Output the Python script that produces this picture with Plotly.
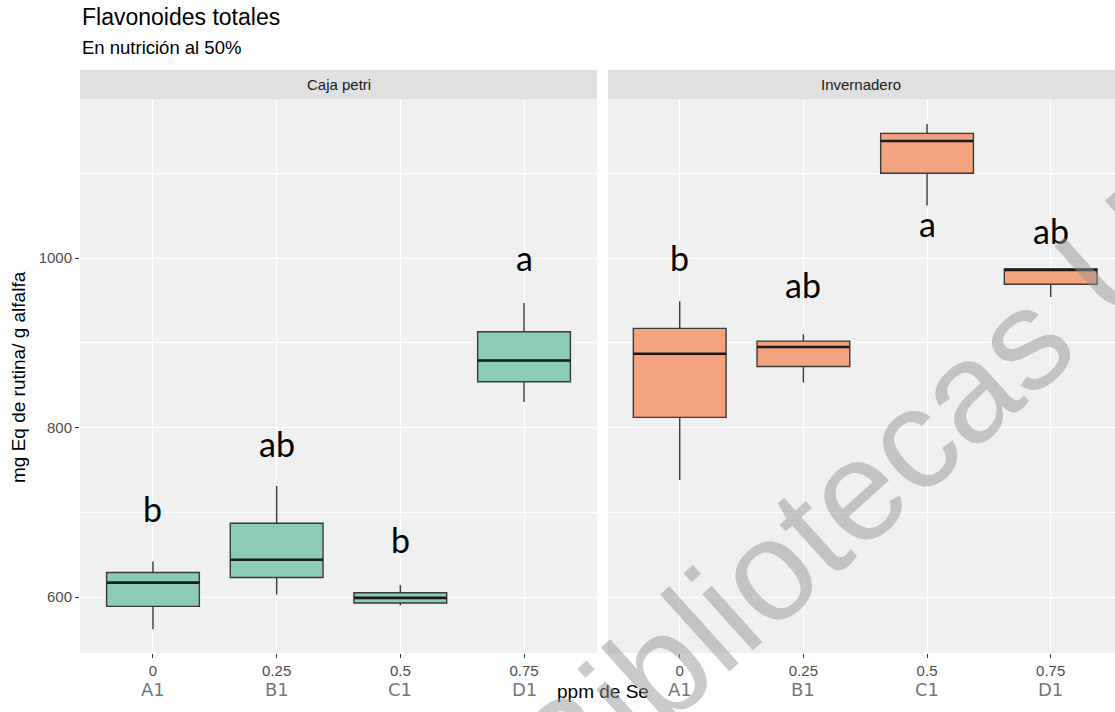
import plotly.graph_objects as go

# Tratamientos (eje x) y etiquetas
categorias = ["A1", "B1", "C1", "D1"]
dosis_se = ["0", "0.25", "0.5", "0.75"]
paneles = ["Caja petri", "Invernadero"]

# Resumen de cajas: Caja petri
petri_min = [562, 603, 590, 830]
petri_q1 = [589, 623, 593, 854]
petri_med = [617, 644, 599, 879]
petri_q3 = [629, 687, 605, 913]
petri_max = [642, 731, 614, 947]
petri_letras = ["b", "ab", "b", "a"]
petri_letra_y = [687, 764, 651, 984]

# Resumen de cajas: Invernadero
inv_min = [738, 853, 1062, 954]
inv_q1 = [812, 872, 1100, 969]
inv_med = [887, 895, 1138, 986]
inv_q3 = [917, 902, 1147, 987]
inv_max = [949, 910, 1158, 987]
inv_letras = ["b", "ab", "a", "ab"]
inv_letra_y = [983, 952, 1024, 1015]

verde = "#8CCBB5"
naranja = "#F4A37F"
fondo_panel = "#F0F0F0"
fondo_tira = "#E0E0E0"
ancho_caja = 0.75

W, H = 1115, 712
ML, MR, MT, MB = 80, 0, 70, 59
pw, ph = W - ML - MR, H - MT - MB
panel_top = (653 - 99) / ph

dom_izq = [0, 517 / pw]
dom_der = [(608 - ML) / pw, 1]

fig = go.Figure()

series = [
    ("x", "y", petri_min, petri_q1, petri_med, petri_q3, petri_max, verde),
    ("x2", "y2", inv_min, inv_q1, inv_med, inv_q3, inv_max, naranja),
]
for xa, ya, mn, q1, md, q3, mx, col in series:
    fig.add_trace(go.Box(
        x=list(range(len(categorias))), q1=q1, median=md, q3=q3,
        lowerfence=mn, upperfence=mx, width=ancho_caja,
        fillcolor=col, line=dict(color="#3a3a3a", width=1.4),
        whiskerwidth=0, boxpoints=False, xaxis=xa, yaxis=ya,
        showlegend=False, hoverinfo="skip",
    ))
    # mediana con trazo más grueso
    for i, m in enumerate(md):
        fig.add_shape(type="line", xref=xa, yref=ya,
                      x0=i - ancho_caja / 2, x1=i + ancho_caja / 2, y0=m, y1=m,
                      line=dict(color="#1a1a1a", width=2.6), layer="above")

fuente_ticks = dict(family="Liberation Sans", size=15, color="#4D4D4D")
eje_x = dict(
    tickmode="array", tickvals=list(range(4)), ticktext=dosis_se,
    showgrid=True, gridcolor="white", gridwidth=1.3, zeroline=False,
    ticks="outside", ticklen=4, tickwidth=1, tickcolor="#333333",
    tickfont=fuente_ticks, showline=False,
)
eje_y = dict(
    range=[534, 1187.6], tickmode="array", tickvals=[600, 800, 1000],
    showgrid=True, gridcolor="white", gridwidth=1.3, zeroline=False,
    minor=dict(tickmode="array", tickvals=[700, 900, 1100], showgrid=True,
               gridcolor="white", gridwidth=0.7, ticks=""),
    domain=[0, panel_top], showline=False,
)

fig.update_layout(
    width=W, height=H,
    margin=dict(l=ML, r=MR, t=MT, b=MB),
    paper_bgcolor="white", plot_bgcolor=fondo_panel,
    xaxis=dict(eje_x, domain=dom_izq, range=[-0.59, 3.59], anchor="y"),
    xaxis2=dict(eje_x, domain=dom_der, range=[-0.58, 3.52], anchor="y2"),
    yaxis=dict(eje_y, anchor="x", ticks="outside", ticklen=4, tickcolor="#333333",
               tickfont=fuente_ticks),
    yaxis2=dict(eje_y, anchor="x2", matches="y", showticklabels=False, ticks=""),
    font=dict(family="Liberation Sans"),
)

# Tiras de faceta
for dom, nombre in zip([dom_izq, dom_der], paneles):
    fig.add_shape(type="rect", xref="paper", yref="paper",
                  x0=dom[0], x1=dom[1], y0=panel_top, y1=1,
                  fillcolor=fondo_tira, line=dict(width=0), layer="below")
    fig.add_annotation(xref="paper", yref="paper", x=(dom[0] + dom[1]) / 2,
                       y=(panel_top + 1) / 2, text=nombre, showarrow=False,
                       xanchor="center", yanchor="middle",
                       font=dict(family="Liberation Sans", size=15, color="#1A1A1A"))

# Letras de significancia
for xa, ya, letras, ly in [("x", "y", petri_letras, petri_letra_y),
                           ("x2", "y2", inv_letras, inv_letra_y)]:
    for i, (t, yv) in enumerate(zip(letras, ly)):
        fig.add_annotation(xref=xa, yref=ya, x=i, y=yv, text=t, showarrow=False,
                           xanchor="center", yanchor="bottom", yshift=-8,
                           font=dict(family="Lato", size=34, color="black"))
    # Códigos de tratamiento bajo las dosis
    for i, c in enumerate(categorias):
        fig.add_annotation(xref=xa, yref="paper", x=i, y=(653 - 690) / ph,
                           text=c, showarrow=False, xanchor="center", yanchor="middle",
                           font=dict(family="DejaVu Sans", size=18, color="#767676"))

# Títulos
fig.add_annotation(xref="paper", yref="paper", x=0, y=(653 - 17) / ph,
                   xanchor="left", yanchor="middle", text="Flavonoides totales",
                   showarrow=False, font=dict(family="Liberation Sans", size=23, color="black"))
fig.add_annotation(xref="paper", yref="paper", x=0, y=(653 - 47) / ph,
                   xanchor="left", yanchor="middle", text="En nutrición al 50%",
                   showarrow=False, font=dict(family="Liberation Sans", size=18.5, color="black"))
fig.add_annotation(xref="paper", yref="paper", x=(603 - ML) / pw, y=(653 - 691) / ph,
                   xanchor="center", yanchor="middle", text="ppm de Se", showarrow=False,
                   font=dict(family="Liberation Sans", size=19, color="black"))
fig.add_annotation(xref="paper", yref="paper", x=(18 - ML) / pw, y=(653 - 377) / ph,
                   xanchor="center", yanchor="middle",
                   textangle=-90, text="mg Eq de rutina/ g alfalfa", showarrow=False,
                   font=dict(family="Liberation Sans", size=19, color="black"))

# Marca de agua
fig.add_annotation(xref="paper", yref="paper", x=(845 - ML) / pw, y=(653 - 500) / ph,
                   xanchor="center", yanchor="middle",
                   textangle=-42, text="Bibliotecas U", showarrow=False,
                   font=dict(family="Liberation Sans", size=143, color="rgba(150,150,150,0.5)"))

fig.write_html("out.html")
